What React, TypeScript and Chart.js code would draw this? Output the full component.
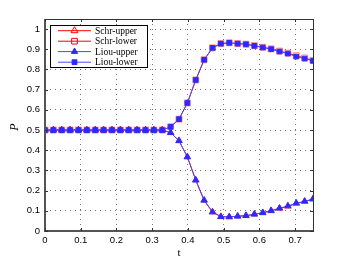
import React, { useEffect, useRef } from 'react';
import { Chart, registerables } from 'chart.js';

Chart.register(...registerables);

const tValues = [
  0, 0.0234, 0.0469, 0.0703, 0.0938, 0.1172, 0.1406, 0.1641, 0.1875, 0.2109, 0.2344,
  0.2578, 0.2813, 0.3047, 0.3281, 0.3516, 0.375, 0.3984, 0.4219, 0.4453, 0.4688, 0.4922,
  0.5156, 0.5391, 0.5625, 0.5859, 0.6094, 0.6328, 0.6563, 0.6797, 0.7031, 0.7266, 0.75,
];

const schrUpper = [
  0.5, 0.5, 0.5, 0.5, 0.5, 0.5, 0.5, 0.5, 0.5, 0.5, 0.5, 0.5, 0.5, 0.5, 0.5,
  0.487, 0.447, 0.367, 0.252, 0.152, 0.094, 0.071, 0.07, 0.073, 0.076, 0.083,
  0.09, 0.1, 0.111, 0.122, 0.136, 0.146, 0.157,
];
const schrLower = [
  0.5, 0.5, 0.5, 0.5, 0.5, 0.5, 0.5, 0.5, 0.5, 0.5, 0.5, 0.5, 0.5, 0.5, 0.5,
  0.516, 0.554, 0.634, 0.748, 0.848, 0.907, 0.928, 0.932, 0.928, 0.925, 0.918,
  0.91, 0.902, 0.891, 0.881, 0.868, 0.857, 0.845,
];
const liouUpper = [
  0.5, 0.5, 0.5, 0.5, 0.5, 0.5, 0.5, 0.5, 0.5, 0.5, 0.5, 0.5, 0.5, 0.5, 0.5,
  0.487, 0.447, 0.367, 0.252, 0.152, 0.094, 0.071, 0.07, 0.073, 0.076, 0.083,
  0.091, 0.101, 0.113, 0.124, 0.138, 0.147, 0.159,
];
const liouLower = [
  0.5, 0.5, 0.5, 0.5, 0.5, 0.5, 0.5, 0.5, 0.5, 0.5, 0.5, 0.5, 0.5, 0.5, 0.5,
  0.516, 0.554, 0.634, 0.748, 0.848, 0.907, 0.928, 0.932, 0.928, 0.925, 0.917,
  0.909, 0.901, 0.889, 0.879, 0.864, 0.854, 0.843,
];

const xTicks = [0, 0.1, 0.2, 0.3, 0.4, 0.5, 0.6, 0.7];
const yTicks = [0, 0.1, 0.2, 0.3, 0.4, 0.5, 0.6, 0.7, 0.8, 0.9, 1];

const legendLabels = ['Schr-upper', 'Schr-lower', 'Liou-upper', 'Liou-lower'];
const xTitle = 't';
const yTitle = 'P';

const RED = '#ff0000';
const RED_MARK = 'rgba(255,70,70,0.65)';
const BLUE_LINE = '#4a4aff';
const BLUE_MARK = '#2a2aff';

const toPts = (ys: number[]) => ys.map((y, i) => ({ x: tValues[i], y }));

function drawMarker(ctx: CanvasRenderingContext2D, kind: string, x: number, y: number, r: number, color: string, filled: boolean) {
  ctx.save();
  ctx.beginPath();
  if (kind === 'triangle') {
    ctx.moveTo(x, y - r);
    ctx.lineTo(x - r * 0.866, y + r * 0.5);
    ctx.lineTo(x + r * 0.866, y + r * 0.5);
    ctx.closePath();
  } else {
    const h = r * Math.SQRT1_2;
    ctx.rect(x - h, y - h, 2 * h, 2 * h);
  }
  if (filled) {
    ctx.fillStyle = color;
    ctx.fill();
  }
  ctx.strokeStyle = color;
  ctx.lineWidth = 1;
  ctx.stroke();
  ctx.restore();
}

const framePlugin = {
  id: 'frame',
  afterDraw(chart: any) {
    const { ctx, chartArea } = chart;
    const { left, right, top, bottom } = chartArea;
    ctx.save();
    ctx.strokeStyle = '#333';
    ctx.lineWidth = 1;
    ctx.strokeRect(left + 0.5, top + 0.5, right - left, bottom - top);
    ctx.strokeStyle = '#555';
    ctx.lineWidth = 2;
    ctx.beginPath();
    ctx.moveTo(left, top);
    ctx.lineTo(left, bottom);
    ctx.lineTo(right, bottom);
    ctx.stroke();
    const xs = chart.scales.x;
    const ys = chart.scales.y;
    ctx.lineWidth = 1;
    ctx.strokeStyle = '#333';
    ys.ticks.forEach((t: any) => {
      const py = Math.round(ys.getPixelForValue(t.value)) + 0.5;
      ctx.beginPath();
      ctx.moveTo(right, py);
      ctx.lineTo(right - 3, py);
      ctx.moveTo(left, py);
      ctx.lineTo(left + 3, py);
      ctx.stroke();
    });
    xs.ticks.forEach((t: any) => {
      const px = Math.round(xs.getPixelForValue(t.value)) + 0.5;
      ctx.beginPath();
      ctx.moveTo(px, top);
      ctx.lineTo(px, top + 3);
      ctx.moveTo(px, bottom);
      ctx.lineTo(px, bottom - 3);
      ctx.stroke();
    });

    ctx.fillStyle = '#000';
    ctx.font = '11px "Liberation Serif"';
    ctx.textAlign = 'center';
    ctx.textBaseline = 'middle';
    ctx.fillText(xTitle, (left + right) / 2, 253);
    ctx.save();
    ctx.translate(15, (top + bottom) / 2 + 2);
    ctx.rotate(-Math.PI / 2);
    ctx.font = 'italic 12px "Liberation Serif"';
    ctx.fillText(yTitle, 0, 0);
    ctx.restore();

    const bx = 50.5, by = 25.5, bw = 97, bh = 42;
    ctx.fillStyle = '#fff';
    ctx.fillRect(bx, by, bw, bh);
    ctx.strokeStyle = '#000';
    ctx.lineWidth = 1;
    ctx.strokeRect(bx, by, bw, bh);
    const rows = [30.7, 41.2, 51.6, 62.2];
    const specs = [
      { color: RED, kind: 'triangle', filled: false, r: 4 },
      { color: RED, kind: 'rect', filled: false, r: 4 },
      { color: BLUE_MARK, kind: 'triangle', filled: true, r: 3.6 },
      { color: BLUE_MARK, kind: 'rect', filled: true, r: 3.4 },
    ];
    ctx.font = '9.5px "Liberation Serif"';
    ctx.textAlign = 'left';
    ctx.textBaseline = 'middle';
    rows.forEach((ry, i) => {
      const s = specs[i];
      ctx.strokeStyle = i < 2 ? RED : BLUE_LINE;
      ctx.lineWidth = 1;
      ctx.beginPath();
      ctx.moveTo(58, ry);
      ctx.lineTo(91, ry);
      ctx.stroke();
      drawMarker(ctx, s.kind, 74.5, ry, s.r, s.color, s.filled);
      ctx.fillStyle = '#000';
      ctx.fillText(legendLabels[i], 95, ry + 0.5);
    });
    ctx.restore();
  },
};

const tickFont = { family: '"Liberation Sans", Arial, sans-serif', size: 9.5 };
const fmt = (v: any) => String(Math.round(Number(v) * 10) / 10);

export default function App() {
  const ref = useRef<HTMLCanvasElement>(null);
  useEffect(() => {
    document.body.style.margin = '0';
    const chart = new Chart(ref.current as HTMLCanvasElement, {
      type: 'line',
      data: {
        datasets: [
          {
            label: legendLabels[0],
            data: toPts(schrUpper),
            order: 3,
            borderColor: RED,
            backgroundColor: 'rgba(0,0,0,0)',
            borderWidth: 1,
            pointStyle: 'triangle',
            pointRadius: 4,
            pointBorderColor: RED_MARK,
            pointBorderWidth: 1,
            pointBackgroundColor: 'rgba(0,0,0,0)',
          },
          {
            label: legendLabels[1],
            data: toPts(schrLower),
            order: 2,
            borderColor: RED,
            backgroundColor: 'rgba(0,0,0,0)',
            borderWidth: 1,
            pointStyle: 'rect',
            pointRadius: 4.2,
            pointBorderColor: RED_MARK,
            pointBorderWidth: 1,
            pointBackgroundColor: 'rgba(0,0,0,0)',
          },
          {
            label: legendLabels[2],
            data: toPts(liouUpper),
            order: 0,
            borderColor: BLUE_LINE,
            backgroundColor: BLUE_MARK,
            borderWidth: 1,
            pointStyle: 'triangle',
            pointRadius: 3.6,
            pointBorderColor: BLUE_MARK,
            pointBackgroundColor: BLUE_MARK,
          },
          {
            label: legendLabels[3],
            data: toPts(liouLower),
            order: 1,
            borderColor: BLUE_LINE,
            backgroundColor: BLUE_MARK,
            borderWidth: 1,
            pointStyle: 'rect',
            pointRadius: 3.3,
            pointBorderColor: BLUE_MARK,
            pointBackgroundColor: BLUE_MARK,
          },
        ],
      },
      options: {
        responsive: false,
        animation: false,
        events: [],
        layout: { padding: { top: 19, right: 33, left: 0, bottom: 0 } },
        plugins: { legend: { display: false }, tooltip: { enabled: false } },
        scales: {
          x: {
            type: 'linear',
            min: 0,
            max: 0.75,
            ticks: { font: tickFont, color: '#000', padding: 4, maxRotation: 0, autoSkip: false, callback: fmt },
            grid: { color: 'rgba(80,80,80,0.8)', drawTicks: false, lineWidth: 1 },
            border: { display: false, dash: [1, 4] },
            afterBuildTicks: (s: any) => {
              s.ticks = xTicks.map((v) => ({ value: v }));
            },
            afterFit: (s: any) => {
              s.height = 30;
            },
          },
          y: {
            min: 0,
            max: 1.05,
            ticks: { font: tickFont, color: '#000', padding: 5, autoSkip: false, callback: fmt },
            grid: { color: 'rgba(80,80,80,0.8)', drawTicks: false, lineWidth: 1 },
            border: { display: false, dash: [1, 4] },
            afterBuildTicks: (s: any) => {
              s.ticks = yTicks.map((v) => ({ value: v }));
            },
            afterFit: (s: any) => {
              s.width = 45;
            },
          },
        },
      },
      plugins: [framePlugin],
    } as any);
    return () => chart.destroy();
  }, []);
  return (
    <div style={{ width: 346, height: 261 }}>
      <canvas ref={ref} width={346} height={261} style={{ display: 'block' }} />
    </div>
  );
}
